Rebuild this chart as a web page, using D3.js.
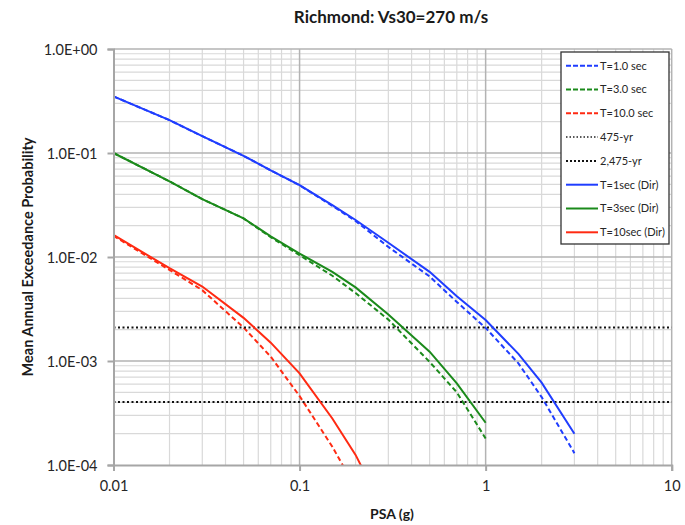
<!DOCTYPE html>
<html>
<head>
<meta charset="utf-8">
<script src="https://cdn.jsdelivr.net/npm/d3@7"></script>
<style>
  html, body { margin: 0; padding: 0; background: #fff; }
  svg { display: block; font-family: Lato, "Open Sans", sans-serif; }
</style>
</head>
<body>
<svg id="chart" width="685" height="525"></svg>
<script>
// ---------------- data ----------------
const title = "Richmond: Vs30=270 m/s";
const xLabel = "PSA (g)";
const yLabel = "Mean Annual Exceedance Probability";

const xTicks = [0.01, 0.1, 1, 10];
const xTickLabels = ["0.01", "0.1", "1", "10"];
const yTicks = [1, 0.1, 0.01, 0.001, 0.0001];
const yTickLabels = ["1.0E+00", "1.0E-01", "1.0E-02", "1.0E-03", "1.0E-04"];

const psaT1 = [0.01, 0.02, 0.03, 0.05, 0.07, 0.1, 0.15, 0.2, 0.3, 0.5, 0.7, 1, 1.5, 2, 3];
const t1 = [0.35, 0.207, 0.145, 0.094, 0.068, 0.049, 0.031, 0.0222, 0.0125, 0.0065, 0.0037, 0.00208, 0.00095, 0.00045, 0.00013];
const t1Dir = [0.35, 0.207, 0.145, 0.094, 0.068, 0.0492, 0.0315, 0.0227, 0.0137, 0.0072, 0.0042, 0.00248, 0.00117, 0.00062, 0.0002];

const psaT3 = [0.01, 0.02, 0.03, 0.05, 0.07, 0.1, 0.15, 0.2, 0.3, 0.5, 0.7, 1];
const t3 = [0.1, 0.0534, 0.036, 0.0235, 0.0155, 0.0104, 0.0066, 0.0045, 0.0025, 0.00098, 0.0005, 0.00018];
const t3Dir = [0.1, 0.0534, 0.036, 0.0235, 0.0158, 0.0108, 0.0072, 0.0051, 0.0028, 0.00123, 0.00061, 0.000255];

const psaT10 = [0.01, 0.02, 0.03, 0.05, 0.07, 0.1, 0.15, 0.2, 0.3];
const t10 = [0.016, 0.0075, 0.0048, 0.0021, 0.0011, 0.00046, 0.00015, 0.00006, 0.00001];
const t10Dir = [0.0163, 0.0078, 0.0052, 0.0026, 0.0015, 0.00076, 0.00028, 0.000125, 0.00003];

const rp475 = 1 / 475;
const rp2475 = 1 / 2475;

const legendLabels = ["T=1.0 sec", "T=3.0 sec", "T=10.0 sec", "475-yr", "2,475-yr", "T=1sec (Dir)", "T=3sec (Dir)", "T=10sec (Dir)"];

// ---------------- styles ----------------
const BLUE = "#1f3dff", GREEN = "#1b8a1b", RED = "#ff2a12";
const series = [
  { x: psaT1, y: t1, color: BLUE, dash: "5,3" },
  { x: psaT3, y: t3, color: GREEN, dash: "5,3" },
  { x: psaT10, y: t10, color: RED, dash: "5,3" },
  { x: psaT1, y: t1Dir, color: BLUE, dash: null },
  { x: psaT3, y: t3Dir, color: GREEN, dash: null },
  { x: psaT10, y: t10Dir, color: RED, dash: null }
];

const svg = d3.select("#chart");
const L = 113.5, R = 671.7, T = 49, B = 465;

const x = d3.scaleLog().domain([0.01, 10]).range([L, R]);
const y = d3.scaleLog().domain([1, 0.0001]).range([T, B]);

// clip
svg.append("defs").append("clipPath").attr("id", "clip")
  .append("rect").attr("x", L).attr("y", T).attr("width", R - L).attr("height", B - T);

// grid
const minorX = [], minorY = [];
for (let d = -2; d < 1; d++) for (let m = 2; m <= 9; m++) minorX.push(m * Math.pow(10, d));
for (let d = -4; d < 0; d++) for (let m = 2; m <= 9; m++) minorY.push(m * Math.pow(10, d));

const grid = svg.append("g");
grid.selectAll(".mx").data(minorX).join("line")
  .attr("x1", d => x(d)).attr("x2", d => x(d)).attr("y1", T).attr("y2", B)
  .attr("stroke", "#d9d9d9").attr("stroke-width", 1.2);
grid.selectAll(".my").data(minorY).join("line")
  .attr("x1", L).attr("x2", R).attr("y1", d => y(d)).attr("y2", d => y(d))
  .attr("stroke", "#d9d9d9").attr("stroke-width", 1.2);
grid.selectAll(".Mx").data(xTicks.slice(1)).join("line")
  .attr("x1", d => x(d)).attr("x2", d => x(d)).attr("y1", T).attr("y2", B)
  .attr("stroke", "#b3b3b3").attr("stroke-width", 1.5);
grid.selectAll(".My").data(yTicks.slice(0, -1)).join("line")
  .attr("x1", L).attr("x2", R).attr("y1", d => y(d)).attr("y2", d => y(d))
  .attr("stroke", "#b3b3b3").attr("stroke-width", 1.5);

const plot = svg.append("g").attr("clip-path", "url(#clip)");
const line = d3.line().x(d => x(d[0])).y(d => y(d[1]));

// dashed series
series.filter(s => s.dash).forEach(s => {
  plot.append("path").datum(d3.zip(s.x, s.y)).attr("d", line)
    .attr("fill", "none").attr("stroke", s.color).attr("stroke-width", 2)
    .attr("stroke-dasharray", s.dash);
});
// return period lines
[rp475, rp2475].forEach(v => {
  plot.append("line").attr("x1", L).attr("x2", R).attr("y1", y(v)).attr("y2", y(v))
    .attr("stroke", "#111").attr("stroke-width", 2).attr("stroke-dasharray", "2,2.5");
});
// solid series
series.filter(s => !s.dash).forEach(s => {
  plot.append("path").datum(d3.zip(s.x, s.y)).attr("d", line)
    .attr("fill", "none").attr("stroke", s.color).attr("stroke-width", 2);
});

// axes
const xAxis = svg.append("g").attr("transform", `translate(0,${B})`)
  .call(d3.axisBottom(x).tickValues(xTicks).tickFormat((d, i) => xTickLabels[i]).tickSize(6).tickPadding(10));
const yAxis = svg.append("g").attr("transform", `translate(${L},0)`)
  .call(d3.axisLeft(y).tickValues(yTicks).tickFormat((d, i) => yTickLabels[i]).tickSize(6).tickPadding(10));
[xAxis, yAxis].forEach(a => {
  a.select(".domain").attr("stroke", "#a6a6a6").attr("stroke-width", 2);
  a.selectAll(".tick line").attr("stroke", "#a6a6a6").attr("stroke-width", 2);
  a.selectAll(".tick text").attr("fill", "#262626").style("font-size", "14.5px").style("font-family", "Lato, sans-serif");
});
yAxis.selectAll(".tick text").attr("dy", "0.36em");

// title & labels
svg.append("text").attr("x", 391).attr("y", 23).attr("text-anchor", "middle")
  .style("font-size", "17px").style("font-weight", "bold").attr("fill", "#1a1a1a").text(title);
svg.append("text").attr("x", 392).attr("y", 519).attr("text-anchor", "middle")
  .style("font-size", "14px").style("font-weight", "bold").attr("fill", "#1a1a1a").text(xLabel);
svg.append("text").attr("transform", "translate(33,257) rotate(-90)").attr("text-anchor", "middle")
  .style("font-size", "14.5px").style("font-weight", "bold").attr("fill", "#1a1a1a").text(yLabel);

// legend
const lg = svg.append("g");
lg.append("rect").attr("x", 561).attr("y", 52).attr("width", 108).attr("height", 192)
  .attr("fill", "#fff").attr("stroke", "#333").attr("stroke-width", 1.3);
const legendItems = [
  { color: BLUE, dash: "5,2", w: 2 },
  { color: GREEN, dash: "5,2", w: 2 },
  { color: RED, dash: "5,2", w: 2 },
  { color: "#222", dash: "1.5,2", w: 1.5 },
  { color: "#111", dash: "2,2", w: 2 },
  { color: BLUE, dash: null, w: 2 },
  { color: GREEN, dash: null, w: 2 },
  { color: RED, dash: null, w: 2 }
];
legendItems.forEach((it, i) => {
  const yy = 65.7 + i * 23.8;
  const ln = lg.append("line").attr("x1", 566).attr("x2", 598).attr("y1", yy).attr("y2", yy)
    .attr("stroke", it.color).attr("stroke-width", it.w);
  if (it.dash) ln.attr("stroke-dasharray", it.dash);
  lg.append("text").attr("x", 600).attr("y", yy).attr("dy", "0.35em")
    .style("font-size", "11px").attr("fill", "#262626").text(legendLabels[i]);
});
</script>
</body>
</html>
